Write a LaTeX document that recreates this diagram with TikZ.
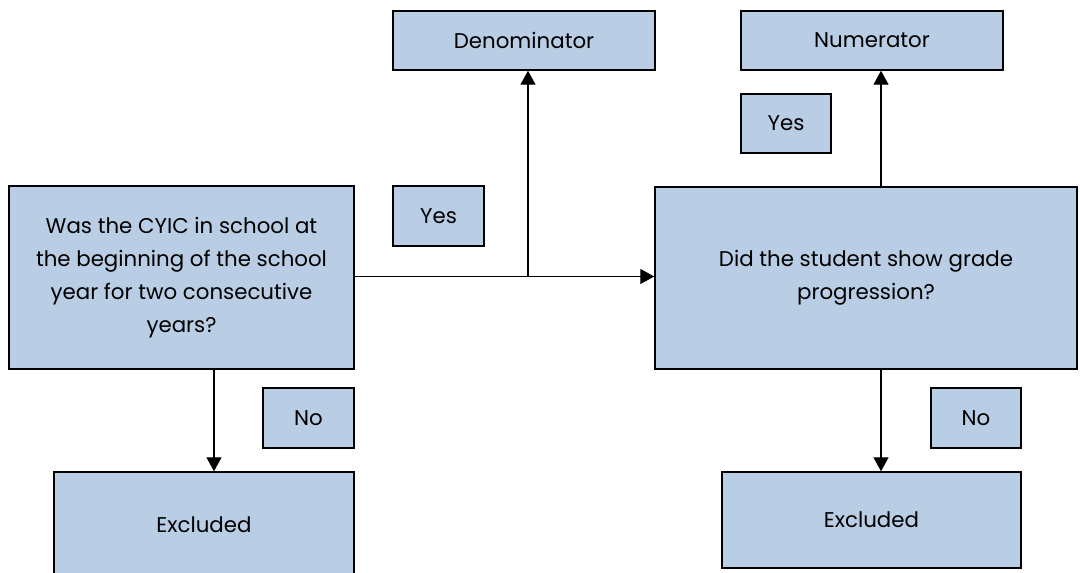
\documentclass[tikz,border=0pt]{standalone}
\usepackage{fontspec}
\setmainfont{Poppins}
\usetikzlibrary{arrows.meta}

\definecolor{boxblue}{RGB}{185,205,229}
\tikzset{
	every picture/.style={line width=1pt},
	flowbox/.style={draw=black, fill=boxblue, line width=1.1pt, rectangle, inner sep=0pt, align=center,
		font=\fontsize{16}{24.75}\selectfont},
	flowarrow/.style={-{Triangle[width=11.25pt,length=10.5pt]}, line width=1pt}}

\begin{document}
\begin{tikzpicture}[x=0.75pt,y=0.75pt,yscale=-1,xscale=1]
		\useasboundingbox (0,0) rectangle (1080,573);

		% Questions
		\node [flowbox, minimum width=345*0.75pt, minimum height=183*0.75pt] (q1) at (181.5,277.5) {Was the CYIC in school at\\the beginning of the school\\year for two consecutive\\years?};
		\node [flowbox, minimum width=422*0.75pt, minimum height=182*0.75pt] (q2) at (866,278) {Did the student show grade\\progression?};

		% Outcomes
		\node [flowbox, minimum width=262*0.75pt, minimum height=59*0.75pt] (den) at (524,40.5) {Denominator};
		\node [flowbox, minimum width=262*0.75pt, minimum height=59*0.75pt] (num) at (872,40.5) {Numerator};
		\node [flowbox, minimum width=300*0.75pt, minimum height=106*0.75pt] (excl) at (204,525) {Excluded};
		\node [flowbox, minimum width=299*0.75pt, minimum height=96*0.75pt] (excr) at (871.5,520) {Excluded};

		% Answer tags
		\node [flowbox, minimum width=91*0.75pt, minimum height=60*0.75pt] (yesl) at (438.5,216) {Yes};
		\node [flowbox, minimum width=90*0.75pt, minimum height=59*0.75pt] (yesr) at (786,123.5) {Yes};
		\node [flowbox, minimum width=91*0.75pt, minimum height=60*0.75pt] (nol) at (308.5,418) {No};
		\node [flowbox, minimum width=90*0.75pt, minimum height=60*0.75pt] (nor) at (976,418) {No};

		% Spines of the connectors
		\coordinate (split) at (528,276.5);
		\coordinate (lspine) at (214,0);
		\coordinate (rspine) at (881,0);

		% Connectors
		\draw [flowarrow] (q1.east |- split) -- (q2.west |- split);
		\draw [flowarrow] (split) -- (split |- den.south);
		\draw [flowarrow] (rspine |- q2.north) -- (rspine |- num.south);
		\draw [flowarrow] (lspine |- q1.south) -- (lspine |- excl.north);
		\draw [flowarrow] (rspine |- q2.south) -- (rspine |- excr.north);

		\end{tikzpicture}
\end{document}
